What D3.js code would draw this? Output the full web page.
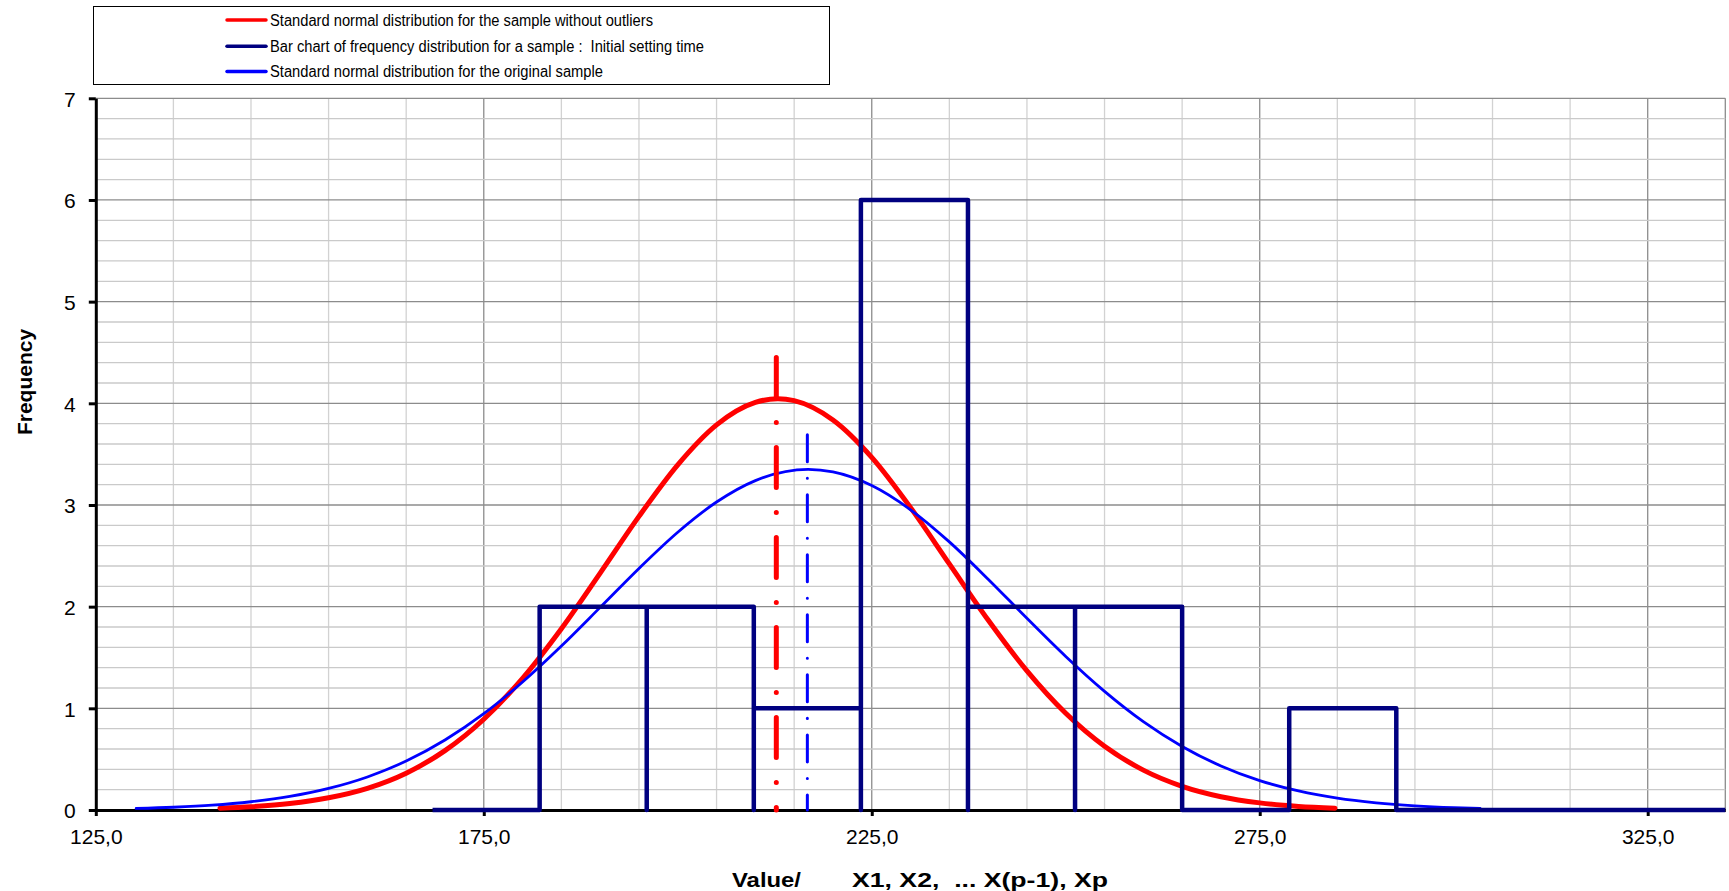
<!DOCTYPE html>
<html>
<head>
<meta charset="utf-8">
<script src="https://cdn.jsdelivr.net/npm/d3@7"></script>
<style>
  body { margin: 0; background: #fff; }
  svg { display: block; font-family: "Liberation Sans", Arial, sans-serif; }
</style>
</head>
<body>
<svg id="chart" width="1729" height="891"></svg>
<script>
// data
const yTicks = [0, 1, 2, 3, 4, 5, 6, 7];
const xTicks = [125, 175, 225, 275, 325];
const xTickLabels = ["125,0", "175,0", "225,0", "275,0", "325,0"];

// histogram (drawn as a step outline)
const binEdges = [168.4, 182.2, 196.0, 209.8, 223.6, 237.4, 251.2, 265.0, 278.8, 292.6];
const freq = [0, 2, 2, 1, 6, 2, 2, 0, 1];

// normal curve, sample without outliers
const redX = [141, 145, 150, 155, 160, 165, 170, 175, 180, 185, 190, 195, 200, 205, 210, 212.9,
  215, 220, 225, 230, 235, 240, 245, 250, 255, 260, 265, 270, 275, 280, 284.7];
const redY = [0.018, 0.032, 0.063, 0.12, 0.213, 0.362, 0.584, 0.893, 1.295, 1.783, 2.33, 2.888, 3.395, 3.788, 4.009, 4.045,
  4.026, 3.836, 3.468, 2.974, 2.42, 1.868, 1.368, 0.951, 0.627, 0.392, 0.233, 0.131, 0.07, 0.035, 0.018];

// normal curve, original sample
const blueX = [130.2, 135, 140, 145, 150, 155, 160, 165, 170, 175, 180, 185, 190, 195, 200, 205, 210, 216.8,
  220, 225, 230, 235, 240, 245, 250, 255, 260, 265, 270, 275, 280, 285, 290, 295, 300, 303.4];
const blueY = [0.015, 0.027, 0.047, 0.081, 0.133, 0.212, 0.325, 0.481, 0.688, 0.947, 1.259, 1.613, 1.993, 2.376, 2.732, 3.029, 3.24, 3.35,
  3.325, 3.191, 2.953, 2.637, 2.27, 1.885, 1.51, 1.167, 0.869, 0.625, 0.433, 0.289, 0.187, 0.116, 0.07, 0.04, 0.022, 0.015];

// mean markers: [x, top]
const redMean = [212.7, 4.45];
const blueMean = [216.7, 3.69];

const legendItems = [
  { text: "Standard normal distribution for the sample without outliers", color: "#ff0000", len: 383 },
  { text: "Bar chart of frequency distribution for a sample :  Initial setting time", color: "#000080", len: 434 },
  { text: "Standard normal distribution for the original sample", color: "#0000ff", len: 333 }
];

const svg = d3.select("#chart");
const xScale = d3.scaleLinear().domain([125, 335]).range([95.8, 1725.3]);
const yScale = d3.scaleLinear().domain([0, 7]).range([810, 98.3]);

//网格
function draw_grid() {
  const g = svg.append("g").attr("class", "grid");
  const vx = d3.range(1, 22).map(i => 125 + i * 10);
  g.selectAll(".vgrid")
    .data(vx)
    .enter()
    .append("line")
    .attr("x1", d => xScale(d)).attr("x2", d => xScale(d))
    .attr("y1", yScale(7)).attr("y2", yScale(0))
    .style("stroke", d => ((d - 125) % 50 === 0 || d === 335) ? "#8c8c8c" : "#d2d2d2")
    .style("stroke-width", 1.3);
  const hy = d3.range(1, 36).map(i => i / 5);
  g.selectAll(".hgrid")
    .data(hy)
    .enter()
    .append("line")
    .attr("x1", xScale(125)).attr("x2", xScale(335))
    .attr("y1", d => yScale(d)).attr("y2", d => yScale(d))
    .style("stroke", (d, i) => (i + 1) % 5 === 0 ? "#8c8c8c" : "#cacaca")
    .style("stroke-width", 1.3);
}

//坐标轴
function draw_axis() {
  const yAxis = d3.axisLeft(yScale).tickValues(yTicks).tickSize(7).tickSizeOuter(0).tickPadding(13).tickFormat(d => d);
  const xAxis = d3.axisBottom(xScale).tickValues(xTicks).tickSize(6).tickSizeOuter(0).tickPadding(13)
    .tickFormat((d, i) => xTickLabels[i]);

  const gy = svg.append("g").attr("transform", `translate(${xScale(125)},0)`).call(yAxis);
  const gx = svg.append("g").attr("transform", `translate(0,${yScale(0)})`).call(xAxis);
  [gy, gx].forEach(g => {
    g.select(".domain").style("stroke", "#000").style("stroke-width", 3);
    g.selectAll(".tick line").style("stroke", "#000").style("stroke-width", 3);
    g.selectAll(".tick text")
      .style("font-family", "'Liberation Sans', Arial, sans-serif")
      .style("font-size", "21px")
      .style("fill", "#000");
  });
  gy.selectAll(".tick text").attr("dy", "0.38em");
}

//均值竖线
function draw_mean(m, color, width, dash) {
  svg.append("line")
    .attr("x1", xScale(m[0])).attr("x2", xScale(m[0]))
    .attr("y1", yScale(m[1])).attr("y2", yScale(0))
    .style("stroke", color)
    .style("stroke-width", width)
    .style("stroke-linecap", "round")
    .style("stroke-dasharray", dash);
}

function draw_curve(xs, ys, color, width) {
  const line = d3.line()
    .x(d => xScale(d[0]))
    .y(d => yScale(d[1]))
    .curve(d3.curveMonotoneX);
  svg.append("path")
    .datum(xs.map((d, i) => [d, ys[i]]))
    .attr("d", line)
    .style("fill", "none")
    .style("stroke", color)
    .style("stroke-width", width)
    .style("stroke-linecap", "round")
    .style("stroke-linejoin", "round");
}

//直方图外框
function draw_hist() {
  let pts = [[binEdges[0], 0]];
  freq.forEach((f, i) => {
    pts.push([binEdges[i], f], [binEdges[i + 1], f], [binEdges[i + 1], 0]);
  });
  pts.push([335, 0]);
  svg.append("path")
    .datum(pts)
    .attr("d", d3.line().x(d => xScale(d[0])).y(d => yScale(d[1])))
    .style("fill", "none")
    .style("stroke", "#000080")
    .style("stroke-width", 4.5)
    .style("stroke-linejoin", "round");
}

function draw_legend() {
  const g = svg.append("g");
  g.append("rect")
    .attr("x", 93.5).attr("y", 6.5).attr("width", 736).attr("height", 78)
    .style("fill", "#fff").style("stroke", "#000").style("stroke-width", 1);
  const rows = [20, 46.3, 71.5];
  legendItems.forEach((d, i) => {
    g.append("line")
      .attr("x1", 227).attr("x2", 266)
      .attr("y1", rows[i]).attr("y2", rows[i])
      .style("stroke", d.color).style("stroke-width", 3.5).style("stroke-linecap", "round");
    g.append("text")
      .attr("x", 270).attr("y", rows[i] + 5.8)
      .attr("textLength", d.len).attr("lengthAdjust", "spacingAndGlyphs")
      .style("white-space", "pre")
      .style("font-size", "16px")
      .text(d.text);
  });
}

function draw_titles() {
  const t = svg.append("text")
    .attr("y", 886.5)
    .style("font-size", "21px").style("font-weight", "bold")
    .style("white-space", "pre");
  t.append("tspan").attr("x", 732).attr("textLength", 69).attr("lengthAdjust", "spacingAndGlyphs").text("Value/");
  t.append("tspan").attr("x", 852).attr("textLength", 256).attr("lengthAdjust", "spacingAndGlyphs").text("X1, X2,  ... X(p-1), Xp");

  svg.append("text")
    .attr("transform", "translate(31.5,382) rotate(-90)")
    .style("text-anchor", "middle")
    .style("font-size", "21px").style("font-weight", "bold")
    .text("Frequency");
}

draw_grid();
draw_axis();
draw_curve(redX, redY, "#ff0000", 5);
draw_curve(blueX, blueY, "#0000ff", 2.8);
draw_mean(redMean, "#ff0000", 5, "40,25,0.01,25");
draw_mean(blueMean, "#0000ff", 3, "27,16.5,0.01,16.5");
draw_hist();
draw_legend();
draw_titles();
</script>
</body>
</html>
